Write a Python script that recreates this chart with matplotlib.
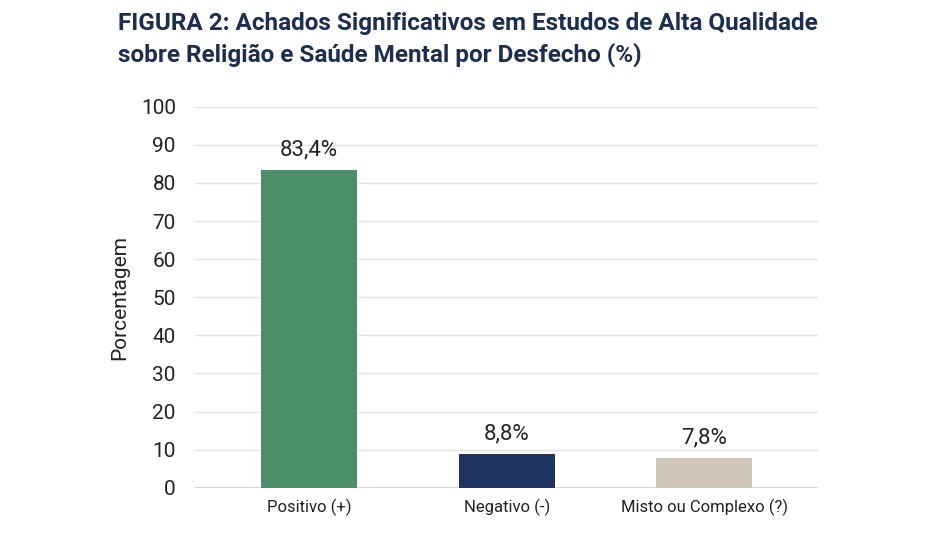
import matplotlib.pyplot as plt
from matplotlib import font_manager

# === Dados ===
categorias = ['Positivo (+)', 'Negativo (-)', 'Misto ou Complexo (?)']
valores = [83.4, 8.8, 7.8]
rotulos = ['83,4%', '8,8%', '7,8%']
cores = ['#4a8f67', '#1f3461', '#cdc6b9']

names = {f.name for f in font_manager.fontManager.ttflist}
familia = ['Liberation Sans Narrow'] if 'Liberation Sans Narrow' in names else ['Roboto']
plt.rcParams['font.family'] = familia + ['DejaVu Sans']

fig = plt.figure(figsize=(9.48, 5.42), dpi=100)
ax = fig.add_axes([0.206, 0.1, 0.657, 0.703])

x = range(len(categorias))
bars = ax.bar(x, valores, width=0.485, color=cores, zorder=3)
for b, r in zip(bars, rotulos):
    ax.text(b.get_x() + b.get_width() / 2, b.get_height() + 2.5, r,
            ha='center', va='bottom', fontsize=16, color='#222222')

ax.set_xlim(-0.576, 2.576)
ax.set_ylim(0, 100)
ax.set_yticks(range(0, 101, 10))
ax.set_xticks(list(x))
ax.set_xticklabels(categorias, fontsize=12, color='#222222')
ax.tick_params(axis='y', labelsize=15, colors='#222222', length=0, pad=14)
ax.tick_params(axis='x', length=0, pad=8)
ax.grid(axis='y', color='#e4e4e4', linewidth=1, zorder=0)
for s in ax.spines.values():
    s.set_visible(False)
ax.axhline(0, color='#d0d0d0', linewidth=1.2, zorder=2)
ax.set_ylabel('Porcentagem', fontsize=15, color='#222222', labelpad=8)

fig.text(0.124, 0.977, 'FIGURA 2: Achados Significativos em Estudos de Alta Qualidade\n'
         'sobre Religião e Saúde Mental por Desfecho (%)',
         ha='left', va='top', fontsize=17.5, fontweight='bold', color='#1b2f52',
         linespacing=1.35)

fig.savefig('out.png', dpi=100)
